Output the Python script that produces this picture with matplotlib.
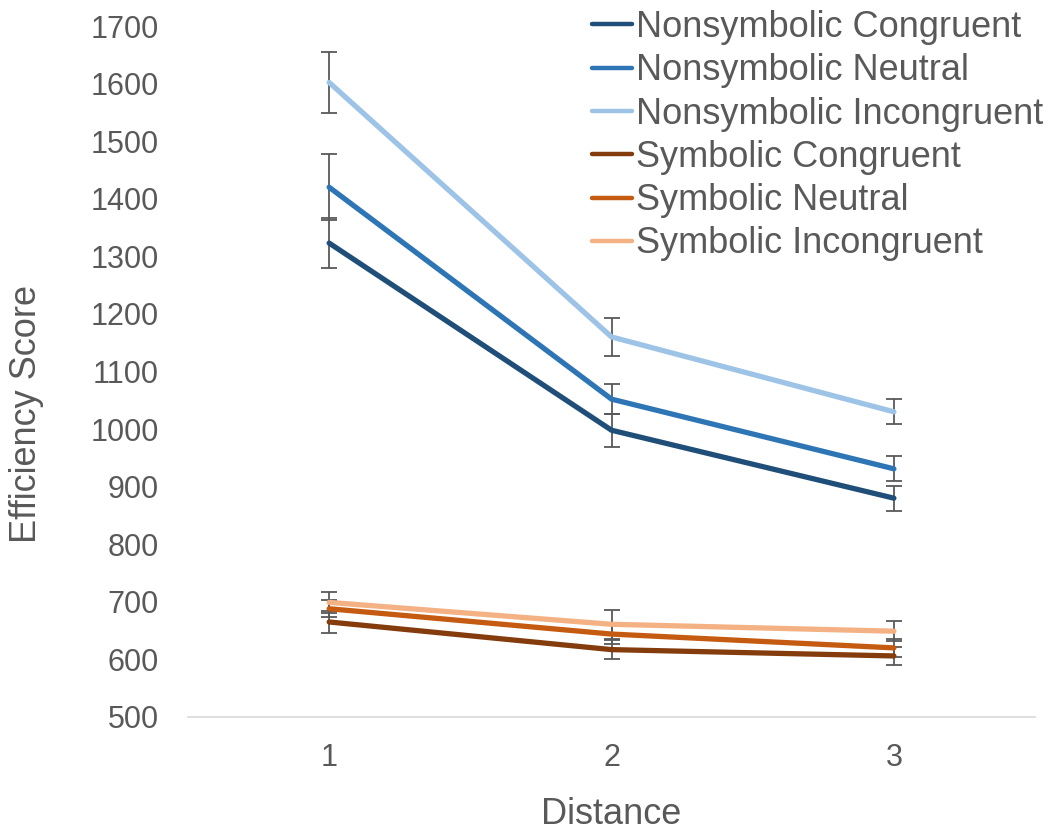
import matplotlib
matplotlib.use("Agg")
import matplotlib.pyplot as plt

plt.rcParams['font.family'] = ['Liberation Sans', 'DejaVu Sans']

distance = [1, 2, 3]
labels = ['Nonsymbolic Congruent', 'Nonsymbolic Neutral', 'Nonsymbolic Incongruent',
          'Symbolic Congruent', 'Symbolic Neutral', 'Symbolic Incongruent']
colors = ['#1F4E79', '#2E75B6', '#9DC3E6', '#843C0C', '#C55A11', '#F4B183']

non_congruent = [1323, 998, 880]
non_neutral = [1420, 1052, 931]
non_incongruent = [1602, 1160, 1030]
sym_congruent = [665, 617, 606]
sym_neutral = [688, 644, 620]
sym_incongruent = [699, 661, 649]

non_congruent_err = [43, 29, 22]
non_neutral_err = [57, 26, 22]
non_incongruent_err = [53, 33, 22]
sym_congruent_err = [19, 17, 15]
sym_neutral_err = [15, 18, 15]
sym_incongruent_err = [18, 25, 17]

series = [non_congruent, non_neutral, non_incongruent, sym_congruent, sym_neutral, sym_incongruent]
errors = [non_congruent_err, non_neutral_err, non_incongruent_err,
          sym_congruent_err, sym_neutral_err, sym_incongruent_err]

fig = plt.figure(figsize=(10.53, 8.31), dpi=100)
ax = fig.add_axes([0.1785, 0.1372, 0.8045, 0.8315])

for vals, errs, c, lab in zip(series, errors, colors, labels):
    ax.plot(distance, vals, color=c, lw=3.8, label=lab, zorder=3, solid_capstyle='round')
    ax.errorbar(distance, vals, yerr=errs, fmt='none', ecolor='#595959',
                elinewidth=1.3, capsize=6, capthick=1.3, zorder=2)

ax.set_xlim(0.5, 3.5)
ax.set_ylim(500, 1700)
ax.set_xticks(distance)
ax.set_yticks(range(500, 1701, 100))
ax.tick_params(axis='both', labelsize=22, colors='#595959', length=0)
ax.tick_params(axis='x', pad=19)
ax.tick_params(axis='y', pad=21)

for s in ['top', 'right', 'left']:
    ax.spines[s].set_visible(False)
ax.spines['bottom'].set_color('#D9D9D9')
ax.spines['bottom'].set_linewidth(1.2)

ax.set_xlabel('Distance', fontsize=26, color='#595959', labelpad=17)
ax.set_ylabel('Efficiency Score', fontsize=26, color='#595959')
ax.yaxis.set_label_coords(-0.17, 0.438)

leg = fig.legend(loc='upper right', bbox_to_anchor=(1043 / 1053, 0.988), frameon=False,
                 fontsize=26, handlelength=1.1, handletextpad=0.1, labelspacing=0.23,
                 borderaxespad=0, borderpad=0)
for t in leg.get_texts():
    t.set_color('#595959')
for h in leg.get_lines():
    h.set_linewidth(3.2)

fig.savefig('out.png', dpi=100)
